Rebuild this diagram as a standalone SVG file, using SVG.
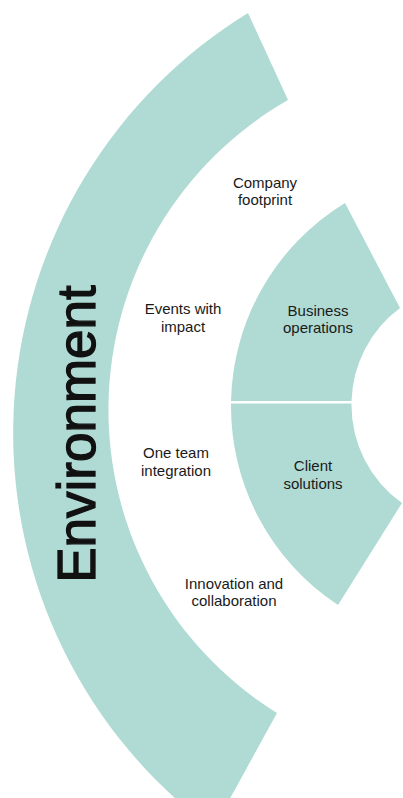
<svg xmlns="http://www.w3.org/2000/svg" width="403" height="798" viewBox="0 0 403 798">
<style>
.seg{fill:#afdbd4;stroke:none}
.lbl{font-family:"Liberation Sans","Noto Sans",sans-serif;font-size:15px;fill:#1a1a1a;text-anchor:middle}
.big{font-family:"Liberation Sans","Noto Sans",sans-serif;font-size:53px;fill:#111;stroke:#111;stroke-width:1.3px;text-anchor:middle}
</style>
<rect width="403" height="798" fill="#ffffff"/>
<g id="environment">
<path class="seg" d="M248,13 A493,493 0 0 0 188.5,810 L223.7,810 L277,713 A357,357 0 0 1 288,100 Z"/>
<text class="big" transform="translate(95,434) rotate(-90)">Environment</text>
</g>
<g id="business-operations">
<path class="seg" d="M231,401 A238,238 0 0 1 345,203 L400,308 A120,120 0 0 0 351.5,401 Z"/>
<text class="lbl" x="318" y="316">Business</text>
<text class="lbl" x="318" y="333">operations</text>
</g>
<g id="client-solutions">
<path class="seg" d="M231,403.5 L351.5,403.5 A120,120 0 0 0 402,503 L338,605 A238,238 0 0 1 231,403.5 Z"/>
<text class="lbl" x="313" y="471">Client</text>
<text class="lbl" x="313" y="489">solutions</text>
</g>
<g id="company-footprint">
<text class="lbl" x="265" y="188">Company</text>
<text class="lbl" x="265" y="205">footprint</text>
</g>
<g id="events-with-impact">
<text class="lbl" x="183" y="314">Events with</text>
<text class="lbl" x="183" y="332">impact</text>
</g>
<g id="one-team-integration">
<text class="lbl" x="176" y="458">One team</text>
<text class="lbl" x="176" y="476">integration</text>
</g>
<g id="innovation-and-collaboration">
<text class="lbl" x="234" y="589">Innovation and</text>
<text class="lbl" x="234" y="606">collaboration</text>
</g>
<g id="connectors"></g>
</svg>
